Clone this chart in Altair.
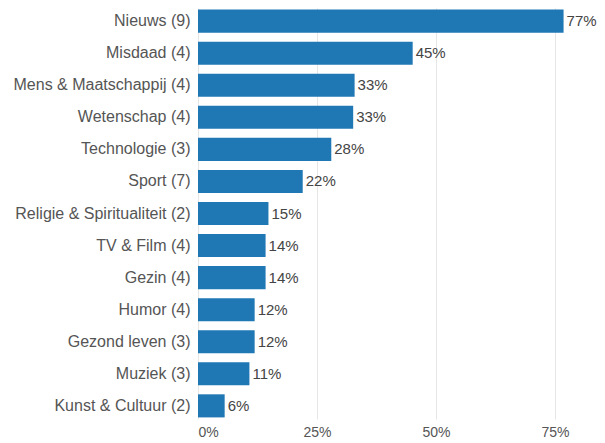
import altair as alt
import pandas as pd

categories = [
    "Nieuws (9)", "Misdaad (4)", "Mens & Maatschappij (4)", "Wetenschap (4)",
    "Technologie (3)", "Sport (7)", "Religie & Spiritualiteit (2)", "TV & Film (4)",
    "Gezin (4)", "Humor (4)", "Gezond leven (3)", "Muziek (3)", "Kunst & Cultuur (2)",
]
values = [0.768, 0.451, 0.329, 0.326, 0.28, 0.22, 0.148, 0.142, 0.142, 0.119, 0.119, 0.108, 0.056]
x_ticks = [0, 0.25, 0.5, 0.75]

df = pd.DataFrame({"cat": categories, "val": values})

FONT = "Arial, Liberation Sans, sans-serif"

y = alt.Y("cat:N", sort=categories, title=None,
          scale=alt.Scale(paddingInner=0.28, paddingOuter=0.05),
          axis=alt.Axis(domain=False, ticks=False, labelPadding=8, labelFontSize=16,
                        labelColor="#555555", labelFont=FONT, labelLimit=300))
x = alt.X("val:Q", title=None, scale=alt.Scale(domain=[0, 392 / 476], nice=False, zero=True),
          axis=alt.Axis(values=x_ticks, format=".0%", domain=False, ticks=False, grid=True,
                        gridColor="#e6e6e6", labelPadding=6, labelFontSize=14,
                        labelColor="#555555", labelFont=FONT))

bars = alt.Chart(df).mark_bar(color="#1f77b4").encode(x=x, y=y)
labels = alt.Chart(df).mark_text(align="left", baseline="middle", dx=3, fontSize=15,
                                 color="#444444", font=FONT).encode(
    x="val:Q", y=alt.Y("cat:N", sort=categories), text=alt.Text("val:Q", format=".0%"))

chart = (bars + labels).properties(
    width=392, height=411,
    autosize=alt.AutoSizeParams(type="none"),
    padding={"left": 190, "top": 0, "right": 7, "bottom": 19},
).configure_view(stroke=None)

chart.save("out.html", embed_options={"renderer": "svg", "actions": False})
